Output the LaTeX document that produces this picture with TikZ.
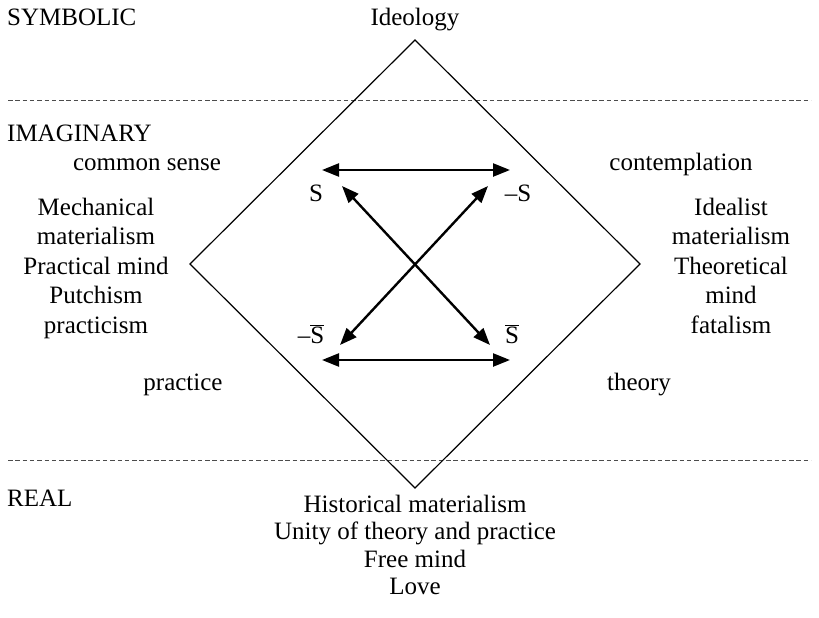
\documentclass[tikz,border=0pt]{standalone}
\usepackage{fontspec}
\setmainfont{Liberation Serif}
\usetikzlibrary{arrows.meta}
\begin{document}
\begin{tikzpicture}[x=1pt,y=-1pt,
  lbl/.style={inner sep=0pt,anchor=base,font=\fontsize{25}{28}\selectfont},
  col/.style={lbl,align=center,font=\fontsize{25}{29.5}\selectfont},
  sym/.style={inner sep=0pt,anchor=base,font=\fontsize{25}{28}\selectfont},
  level/.style={draw=black!70,line width=1pt,dash pattern=on 4.5pt off 2.8pt},
  frame/.style={draw=black,line width=1.2pt,line join=miter},
  dbl/.style={line width=2.4pt,{Triangle[length=17pt,width=13pt]}-{Triangle[length=17pt,width=13pt]}}]
\useasboundingbox (0,0) rectangle (819,618);

% register labels and level separators
\node[lbl,anchor=base west] (symb) at (7,26) {SYMBOLIC};
\node[lbl,anchor=base west] (imag) at (7,141) {IMAGINARY};
\node[lbl,anchor=base west] (real) at (7,506) {REAL};
\coordinate (l1a) at (8,100);  \coordinate (l1b) at (811,100);
\coordinate (l2a) at (8,460);  \coordinate (l2b) at (811,460);
\draw[level] (l1a) -- (l1b);
\draw[level] (l2a) -- (l2b);

% the square
\coordinate (top) at (415,40);
\coordinate (rgt) at (640,264);
\coordinate (bot) at (415,488);
\coordinate (lft) at (190,264);
\draw[frame] (top) -- (rgt) -- (bot) -- (lft) -- cycle;

% texts around the square (multi-line blocks are placed by their last baseline)
\node[lbl] (ideo) at (415,26) {Ideology};
\node[lbl] (cs) at (147,170) {common sense};
\node[lbl] (cont) at (681,170) {contemplation};
\node[lbl] (prac) at (183,390) {practice};
\node[lbl] (theo) at (639,390) {theory};
\node[col] (leftcol) at (96,333)
  {Mechanical\\materialism\\Practical mind\\Putchism\\practicism};
\node[col] (rightcol) at (731,333)
  {Idealist\\materialism\\Theoretical\\mind\\fatalism};
\node[col,font=\fontsize{25}{27.5}\selectfont] (hist) at (415,594.5)
  {Historical materialism\\Unity of theory and practice\\Free mind\\Love};

% semiotic square terms
\node[sym] (s) at (316,201) {S};
\node[sym] (ns) at (518,201) {–S};
\node[sym] (nsb) at (311,343) {–$\overline{\mbox{S}}$};
\node[sym] (sb) at (512,343) {$\overline{\mbox{S}}$};

% arrow ends
\coordinate (ha) at (322,170); \coordinate (hb) at (510,170);
\coordinate (ka) at (322,360); \coordinate (kb) at (510,360);
\coordinate (dtl) at (342,186); \coordinate (dbr) at (490,345);
\coordinate (dtr) at (488,186); \coordinate (dbl) at (340,345);
\draw[dbl] (ha) -- (hb);
\draw[dbl] (ka) -- (kb);
\draw[dbl] (dtl) -- (dbr);
\draw[dbl] (dtr) -- (dbl);
\end{tikzpicture}
\end{document}
